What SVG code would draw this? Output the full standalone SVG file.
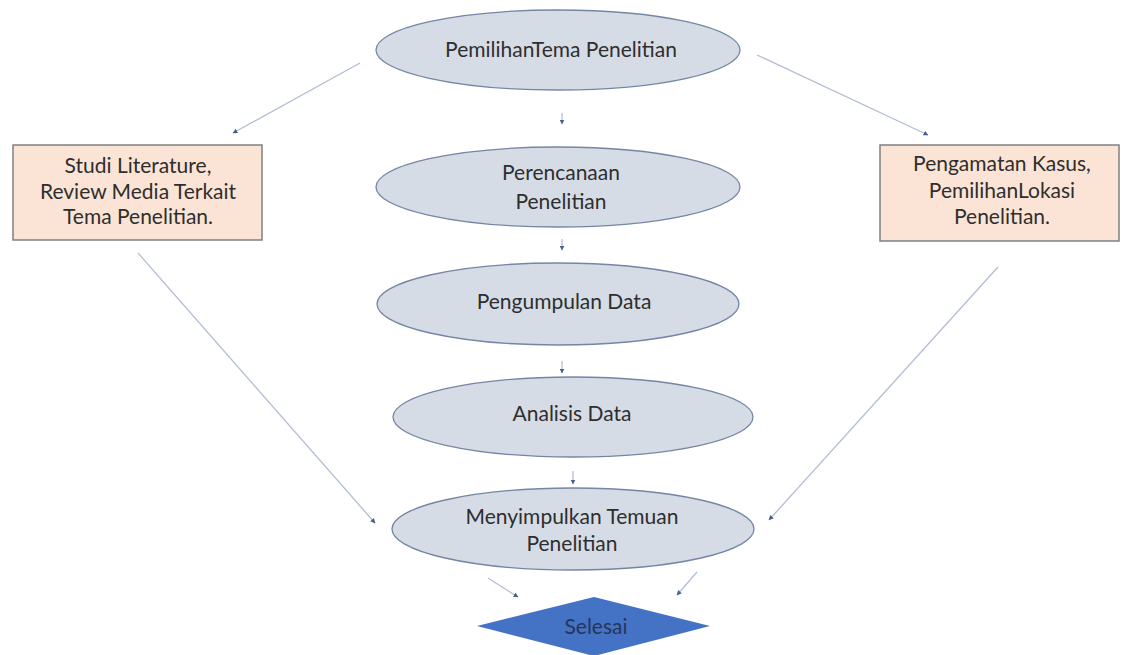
<svg xmlns="http://www.w3.org/2000/svg" width="1124" height="655" viewBox="0 0 1124 655">
  <defs>
    <style>
      .ell { fill: #d6dce6; stroke: #7486a3; stroke-width: 1.3; }
      .box { fill: #fbe4d5; stroke: #808080; stroke-width: 1.5; }
      .dia { fill: #4472c4; }
      .t { font-family: Lato, "Open Sans", "Liberation Sans", sans-serif; font-size: 21px; fill: #2e2e2e; text-anchor: middle; }
      .td { font-family: Lato, "Open Sans", "Liberation Sans", sans-serif; font-size: 21px; fill: #243759; text-anchor: middle; }
      .c { stroke: #b3bdd3; stroke-width: 1.3; fill: none; marker-end: url(#ah); }
    </style>
    <marker id="ah" viewBox="0 0 10 10" refX="9" refY="5" markerWidth="5" markerHeight="5" orient="auto" markerUnits="userSpaceOnUse">
      <path d="M0,0 L10,5 L0,10 z" fill="#4b5f8f"/>
    </marker>
  </defs>
  <rect width="1124" height="655" fill="#ffffff"/>

  <g id="connectors">
    <line class="c" x1="360" y1="63" x2="233" y2="133"/>
    <line class="c" x1="757" y1="55" x2="928" y2="135"/>
    <line class="c" x1="562" y1="113" x2="562" y2="124"/>
    <line class="c" x1="562" y1="239" x2="562" y2="250"/>
    <line class="c" x1="562" y1="361" x2="562" y2="373"/>
    <line class="c" x1="573" y1="471" x2="573" y2="484"/>
    <line class="c" x1="138" y1="253" x2="375" y2="523"/>
    <line class="c" x1="998" y1="267" x2="769" y2="520"/>
    <line class="c" x1="488" y1="578" x2="518" y2="597"/>
    <line class="c" x1="697" y1="572" x2="677" y2="595"/>
  </g>

  <g id="node-pemilihan-tema">
    <ellipse class="ell" cx="558" cy="50" rx="182" ry="40"/>
    <text class="t" x="561" y="57">PemilihanTema Penelitian</text>
  </g>

  <g id="node-perencanaan">
    <ellipse class="ell" cx="558" cy="187" rx="182" ry="40"/>
    <text class="t" x="561" y="180">Perencanaan</text>
    <text class="t" x="561" y="209">Penelitian</text>
  </g>

  <g id="node-pengumpulan">
    <ellipse class="ell" cx="558" cy="304" rx="181" ry="41"/>
    <text class="t" x="564" y="309">Pengumpulan Data</text>
  </g>

  <g id="node-analisis">
    <ellipse class="ell" cx="573" cy="417" rx="180" ry="40"/>
    <text class="t" x="572" y="421">Analisis Data</text>
  </g>

  <g id="node-menyimpulkan">
    <ellipse class="ell" cx="573" cy="529" rx="181" ry="41"/>
    <text class="t" x="572" y="524">Menyimpulkan Temuan</text>
    <text class="t" x="572" y="551">Penelitian</text>
  </g>

  <g id="node-studi-literature">
    <rect class="box" x="13" y="145" width="249" height="95"/>
    <text class="t" x="138" y="173">Studi Literature,</text>
    <text class="t" x="138" y="199">Review Media Terkait</text>
    <text class="t" x="138" y="224">Tema Penelitian.</text>
  </g>

  <g id="node-pengamatan">
    <rect class="box" x="880" y="145" width="239" height="96"/>
    <text class="t" x="1002" y="171">Pengamatan Kasus,</text>
    <text class="t" x="1002" y="198">PemilihanLokasi</text>
    <text class="t" x="1002" y="224">Penelitian.</text>
  </g>

  <g id="node-selesai">
    <polygon class="dia" points="594,597 710,626 594,656 477,626"/>
    <text class="td" x="596" y="634">Selesai</text>
  </g>
</svg>
